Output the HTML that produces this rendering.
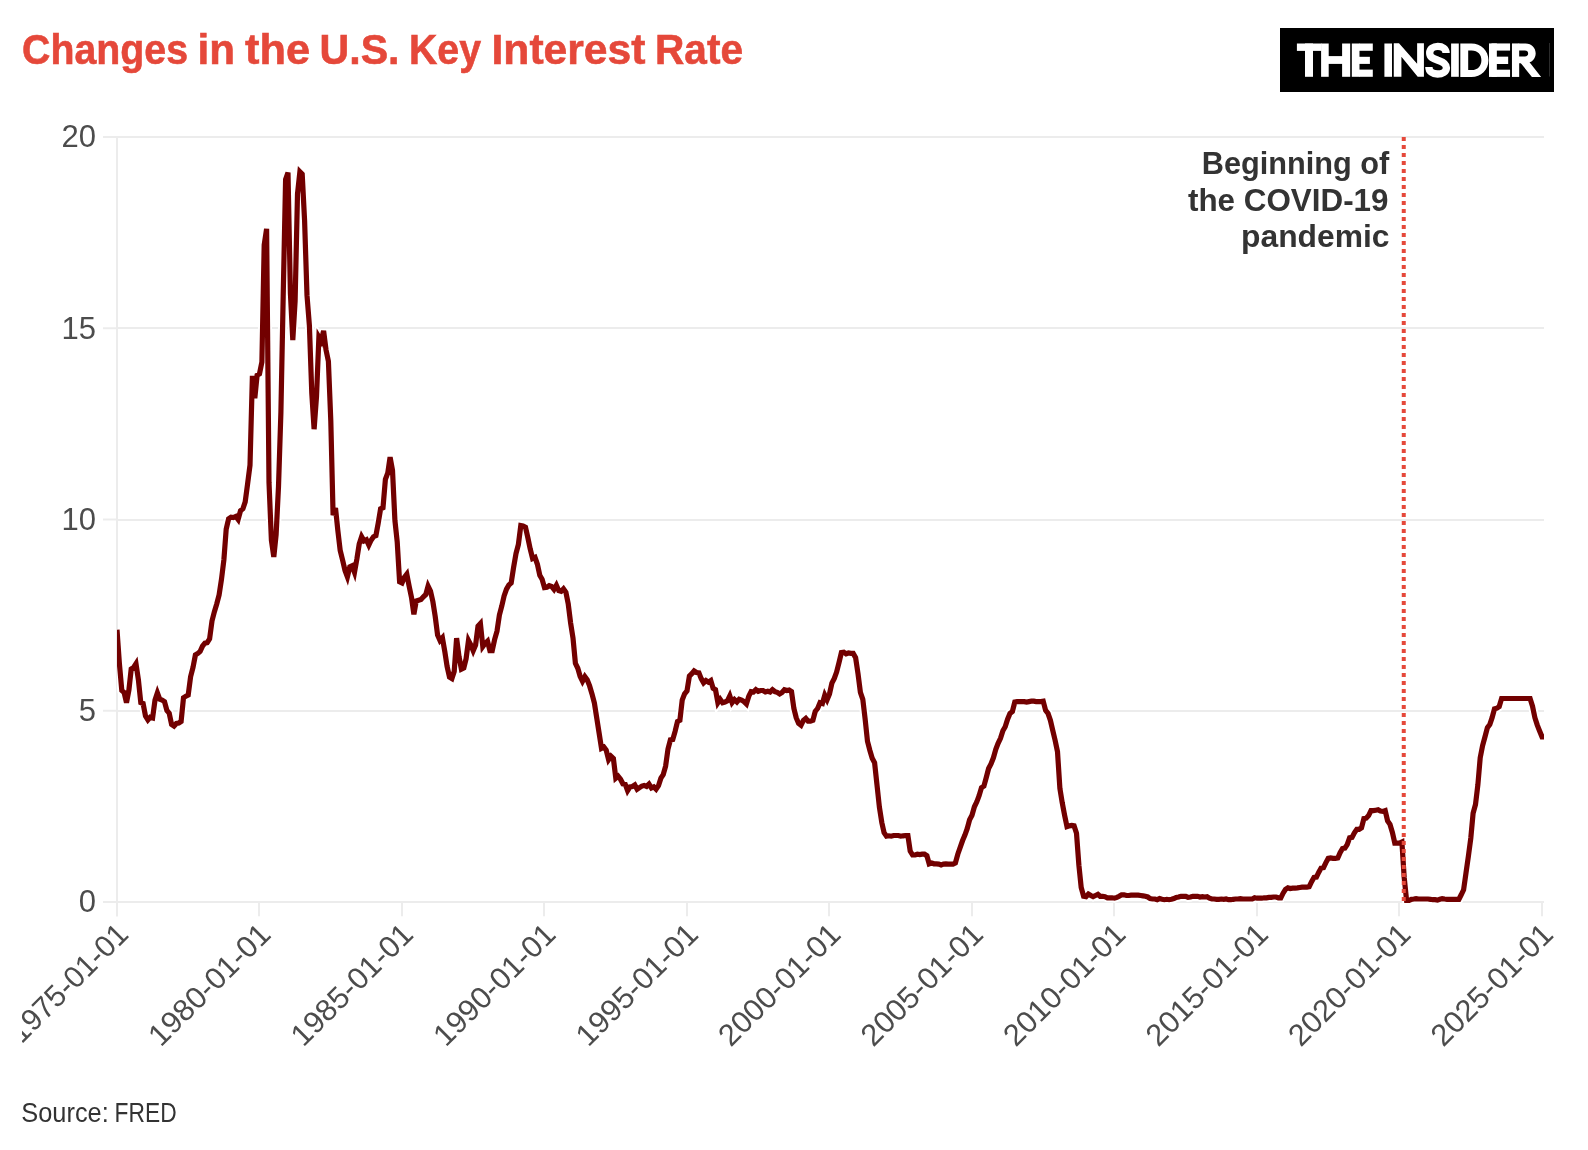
<!DOCTYPE html>
<html><head><meta charset="utf-8"><title>Changes in the U.S. Key Interest Rate</title>
<style>
html,body{margin:0;padding:0;background:#fff;}
body{width:1588px;height:1150px;overflow:hidden;font-family:"Liberation Sans",sans-serif;}
svg{display:block;font-family:"Liberation Sans",sans-serif;will-change:transform;-webkit-font-smoothing:antialiased;}
</style></head><body>
<svg width="1588" height="1150" viewBox="0 0 1588 1150">
<defs><clipPath id="c"><rect x="22" y="0" width="1544" height="1150"/></clipPath><clipPath id="p"><rect x="117" y="100" width="1427" height="830"/></clipPath></defs>
<rect width="1588" height="1150" fill="#fff"/>
<g font-size="43" font-weight="bold" fill="#e5483a" stroke="#e5483a" stroke-width="0.6"><text x="22.0" y="63.6" textLength="166.0" lengthAdjust="spacingAndGlyphs">Changes</text><text x="197.5" y="63.6" textLength="37.5" lengthAdjust="spacingAndGlyphs">in</text><text x="245.0" y="63.6" textLength="65.0" lengthAdjust="spacingAndGlyphs">the</text><text x="319.5" y="63.6" textLength="80.0" lengthAdjust="spacingAndGlyphs">U.S.</text><text x="409.0" y="63.6" textLength="72.0" lengthAdjust="spacingAndGlyphs">Key</text><text x="491.5" y="63.6" textLength="154.0" lengthAdjust="spacingAndGlyphs">Interest</text><text x="655.0" y="63.6" textLength="88.0" lengthAdjust="spacingAndGlyphs">Rate</text></g>
<rect x="1280" y="28" width="274" height="64" fill="#000"/><path fill="#fff" fill-rule="evenodd" d="M1296.90,43.50H1321.60V50.90H1296.90Z"/><path fill="#fff" fill-rule="evenodd" d="M1305.00,43.50H1313.00V76.80H1305.00Z"/><path fill="#fff" fill-rule="evenodd" d="M1321.10,43.50H1328.70V76.80H1321.10Z"/><path fill="#fff" fill-rule="evenodd" d="M1342.10,43.50H1350.20V76.80H1342.10Z"/><path fill="#fff" fill-rule="evenodd" d="M1328.00,56.10H1343.00V63.90H1328.00Z"/><path fill="#fff" fill-rule="evenodd" d="M1351.80,43.50H1359.50V76.80H1351.80Z"/><path fill="#fff" fill-rule="evenodd" d="M1359.00,43.50H1372.80V50.80H1359.00Z"/><path fill="#fff" fill-rule="evenodd" d="M1359.00,56.80H1369.90V63.90H1359.00Z"/><path fill="#fff" fill-rule="evenodd" d="M1359.00,69.60H1372.80V76.80H1359.00Z"/><path fill="#fff" fill-rule="evenodd" d="M1384.40,43.50H1392.00V76.80H1384.40Z"/><path fill="#fff" fill-rule="evenodd" d="M1393.77,43.37 L1398.99,43.37 L1417.12,63.66 L1417.12,43.37 L1423.92,43.37 L1423.92,76.81 L1417.69,76.81 L1401.42,56.86 L1401.42,76.81 L1393.77,76.81Z"/><path fill="#fff" fill-rule="evenodd" d="M1451.10,43.50H1458.80V76.80H1451.10Z"/><path fill="#fff" fill-rule="evenodd" d="M1460.31,43.43L1471.34,43.43C1481.10,43.43 1488.46,50.48 1488.46,60.18C1488.46,70.01 1481.10,76.93 1471.34,76.93L1460.31,76.93ZM1468.19,50.61L1468.19,70.01L1471.65,70.01C1477.95,70.01 1481.41,65.60 1481.41,60.18C1481.41,54.89 1477.95,50.61 1471.65,50.61Z"/><path fill="#fff" fill-rule="evenodd" d="M1488.97,43.43L1496.84,43.43 1496.84,76.93 1488.97,76.93Z"/><path fill="#fff" fill-rule="evenodd" d="M1491.49,43.43L1510.06,43.43 1510.06,50.61 1491.49,50.61Z"/><path fill="#fff" fill-rule="evenodd" d="M1491.49,56.65L1508.17,56.65 1508.17,64.02 1491.49,64.02Z"/><path fill="#fff" fill-rule="evenodd" d="M1491.49,69.69L1510.06,69.69 1510.06,76.93 1491.49,76.93Z"/><path fill="#fff" fill-rule="evenodd" d="M1511.95,43.43L1519.19,43.43 1519.19,76.93 1511.95,76.93Z"/><path fill="#fff" fill-rule="evenodd" d="M1518.56,43.43L1525.49,43.43C1531.79,43.43 1535.69,47.96 1535.69,53.32C1535.69,58.67 1531.79,63.20 1525.49,63.20L1518.56,63.20ZM1518.56,50.61L1518.56,56.47L1524.86,56.47C1527.07,56.47 1528.14,55.21 1528.14,53.57C1528.14,51.93 1527.07,50.61 1524.86,50.61Z"/><path fill="#fff" fill-rule="evenodd" d="M1519.19,62.45L1528.95,61.50 1541.11,76.93 1531.91,76.93 1520.45,62.76Z"/><path fill="none" stroke="#fff" stroke-width="7.35" d="M1446.08,53.00C1446.08,48.75 1442.34,46.32 1437.81,46.32C1433.28,46.32 1429.71,49.04 1429.71,53.00C1429.71,57.08 1432.71,58.39 1437.92,60.26C1443.02,61.96 1446.42,63.88 1446.42,67.74C1446.42,71.71 1442.34,74.03 1437.53,74.03C1432.43,74.03 1428.86,71.42 1428.86,67.06"/><rect x="1549" y="43" width="1" height="33.5" fill="#2b2b2b"/>
<g stroke="#ececec" stroke-width="2" fill="none"><line x1="103" x2="117" y1="902.00" y2="902.00"/><line x1="117" x2="1544" y1="902" y2="902"/><line x1="103" x2="117" y1="710.75" y2="710.75"/><line x1="117" x2="1544" y1="711" y2="711"/><line x1="103" x2="117" y1="519.50" y2="519.50"/><line x1="117" x2="1544" y1="520" y2="520"/><line x1="103" x2="117" y1="328.25" y2="328.25"/><line x1="117" x2="1544" y1="328" y2="328"/><line x1="103" x2="117" y1="137.00" y2="137.00"/><line x1="117" x2="1544" y1="137" y2="137"/><line x1="117" x2="117" y1="137" y2="916.3"/><line x1="117" x2="117" y1="902" y2="916.3"/><line x1="259" x2="259" y1="902" y2="916.3"/><line x1="402" x2="402" y1="902" y2="916.3"/><line x1="544" x2="544" y1="902" y2="916.3"/><line x1="687" x2="687" y1="902" y2="916.3"/><line x1="829" x2="829" y1="902" y2="916.3"/><line x1="972" x2="972" y1="902" y2="916.3"/><line x1="1114" x2="1114" y1="902" y2="916.3"/><line x1="1257" x2="1257" y1="902" y2="916.3"/><line x1="1399" x2="1399" y1="902" y2="916.3"/><line x1="1542" x2="1542" y1="902" y2="916.3"/></g>
<g font-size="31" fill="#4c4c4c"><text x="96.1" y="912.4" text-anchor="end">0</text><text x="96.1" y="721.0" text-anchor="end">5</text><text x="96.1" y="529.7" text-anchor="end">10</text><text x="96.1" y="338.6" text-anchor="end">15</text><text x="96.1" y="146.7" text-anchor="end">20</text></g>
<g font-size="30.5" fill="#4c4c4c" clip-path="url(#c)"><text transform="translate(130.0,936) rotate(-45)" text-anchor="end" textLength="153.5" lengthAdjust="spacingAndGlyphs">1975-01-01</text><text transform="translate(272.5,936) rotate(-45)" text-anchor="end" textLength="158" lengthAdjust="spacingAndGlyphs">1980-01-01</text><text transform="translate(415.0,936) rotate(-45)" text-anchor="end" textLength="158" lengthAdjust="spacingAndGlyphs">1985-01-01</text><text transform="translate(557.5,936) rotate(-45)" text-anchor="end" textLength="158" lengthAdjust="spacingAndGlyphs">1990-01-01</text><text transform="translate(700.0,936) rotate(-45)" text-anchor="end" textLength="158" lengthAdjust="spacingAndGlyphs">1995-01-01</text><text transform="translate(842.5,936) rotate(-45)" text-anchor="end" textLength="158" lengthAdjust="spacingAndGlyphs">2000-01-01</text><text transform="translate(985.0,936) rotate(-45)" text-anchor="end" textLength="158" lengthAdjust="spacingAndGlyphs">2005-01-01</text><text transform="translate(1127.5,936) rotate(-45)" text-anchor="end" textLength="158" lengthAdjust="spacingAndGlyphs">2010-01-01</text><text transform="translate(1270.0,936) rotate(-45)" text-anchor="end" textLength="158" lengthAdjust="spacingAndGlyphs">2015-01-01</text><text transform="translate(1412.5,936) rotate(-45)" text-anchor="end" textLength="158" lengthAdjust="spacingAndGlyphs">2020-01-01</text><text transform="translate(1555.0,936) rotate(-45)" text-anchor="end" textLength="158" lengthAdjust="spacingAndGlyphs">2025-01-01</text></g>
<g clip-path="url(#p)" fill="none" stroke-linejoin="miter" stroke-linecap="butt"><path d="M117.0,629.7 L119.4,663.7 L121.8,690.5 L124.1,692.4 L126.5,702.7 L128.9,690.1 L131.2,669.1 L133.6,667.5 L136.0,663.7 L138.4,679.8 L140.8,702.7 L143.1,703.5 L145.5,716.1 L147.9,719.9 L150.2,717.3 L152.6,718.0 L155.0,700.1 L157.4,692.8 L159.8,699.3 L162.1,700.1 L164.5,701.6 L166.9,710.4 L169.2,713.1 L171.6,724.5 L174.0,726.1 L176.4,723.4 L178.8,723.0 L181.1,721.5 L183.5,697.8 L185.9,696.2 L188.2,695.1 L190.6,676.7 L193.0,667.5 L195.4,654.9 L197.8,653.4 L200.1,651.5 L202.5,646.1 L204.9,643.1 L207.2,642.7 L209.6,638.9 L212.0,620.9 L214.4,611.7 L216.8,603.7 L219.1,594.9 L221.5,579.2 L223.9,559.7 L226.2,529.1 L228.6,518.8 L231.0,517.2 L233.4,517.6 L235.8,516.5 L238.1,519.5 L240.5,510.7 L242.9,508.8 L245.2,501.9 L247.6,483.9 L250.0,465.2 L252.4,375.7 L254.8,398.3 L257.1,375.3 L259.5,373.8 L261.9,361.9 L264.2,244.9 L266.6,228.8 L269.0,482.4 L271.4,540.2 L273.8,557.0 L276.1,534.8 L278.5,486.6 L280.9,412.4 L283.2,296.1 L285.6,179.5 L288.0,172.6 L290.4,293.1 L292.8,340.1 L295.1,301.1 L297.5,194.0 L299.9,171.8 L302.2,174.1 L304.6,220.8 L307.0,295.4 L309.4,325.6 L311.8,393.3 L314.1,429.2 L316.5,396.7 L318.9,337.1 L321.2,340.9 L323.6,330.9 L326.0,349.7 L328.4,361.2 L330.8,420.8 L333.1,515.3 L335.5,508.0 L337.9,531.0 L340.2,550.5 L342.6,560.1 L345.0,570.4 L347.4,576.9 L349.8,566.9 L352.1,565.8 L354.5,572.3 L356.9,558.9 L359.2,544.0 L361.6,536.7 L364.0,540.9 L366.4,539.8 L368.8,545.1 L371.1,540.2 L373.5,536.7 L375.9,535.6 L378.2,523.3 L380.6,508.8 L383.0,507.7 L385.4,479.4 L387.8,472.9 L390.1,457.2 L392.5,470.2 L394.9,520.3 L397.2,541.7 L399.6,581.9 L402.0,583.0 L404.4,577.3 L406.8,574.2 L409.1,586.1 L411.5,597.5 L413.9,614.4 L416.2,601.0 L418.6,600.2 L421.0,599.5 L423.4,596.8 L425.8,594.5 L428.1,586.1 L430.5,591.0 L432.9,601.8 L435.2,616.3 L437.6,635.0 L440.0,640.4 L442.4,637.7 L444.8,651.5 L447.1,666.4 L449.5,677.1 L451.9,678.6 L454.2,671.4 L456.6,638.1 L459.0,656.5 L461.4,669.1 L463.8,667.9 L466.1,658.7 L468.5,640.4 L470.9,645.0 L473.2,650.7 L475.6,645.0 L478.0,626.2 L480.4,623.6 L482.8,646.5 L485.1,643.4 L487.5,641.2 L489.9,650.7 L492.2,650.7 L494.6,639.6 L497.0,631.2 L499.4,615.1 L501.8,606.0 L504.1,596.0 L506.5,589.1 L508.9,584.9 L511.2,583.0 L513.6,567.3 L516.0,553.6 L518.4,544.4 L520.8,525.6 L523.1,526.0 L525.5,527.2 L527.9,537.9 L530.2,549.0 L532.6,558.5 L535.0,557.4 L537.4,564.3 L539.8,575.4 L542.1,579.2 L544.5,587.6 L546.9,587.2 L549.2,585.7 L551.6,586.5 L554.0,589.5 L556.4,585.3 L558.8,590.7 L561.1,591.4 L563.5,588.8 L565.9,592.2 L568.2,603.7 L570.6,622.8 L573.0,638.1 L575.4,663.3 L577.8,668.3 L580.1,676.3 L582.5,681.3 L584.9,676.7 L587.2,679.8 L589.6,685.9 L592.0,693.9 L594.4,703.1 L596.8,718.4 L599.1,733.0 L601.5,748.3 L603.9,747.1 L606.2,750.2 L608.6,759.7 L611.0,756.3 L613.4,758.6 L615.8,778.1 L618.1,776.2 L620.5,779.2 L622.9,783.8 L625.2,784.2 L627.6,790.7 L630.0,786.9 L632.4,786.5 L634.8,785.0 L637.1,789.2 L639.5,787.6 L641.9,786.1 L644.2,785.4 L646.6,786.5 L649.0,784.2 L651.4,788.0 L653.8,786.9 L656.1,789.2 L658.5,785.7 L660.9,778.1 L663.2,774.6 L665.6,766.2 L668.0,749.0 L670.4,739.8 L672.8,739.5 L675.1,731.4 L677.5,721.5 L679.9,720.3 L682.2,700.1 L684.6,693.9 L687.0,690.9 L689.4,676.0 L691.8,673.7 L694.1,671.0 L696.5,672.5 L698.9,672.9 L701.2,678.6 L703.6,682.8 L706.0,680.5 L708.4,682.1 L710.8,680.5 L713.1,688.2 L715.5,689.7 L717.9,702.7 L720.2,699.3 L722.6,702.7 L725.0,702.0 L727.4,700.8 L729.8,695.8 L732.1,702.7 L734.5,699.7 L736.9,702.0 L739.2,699.3 L741.6,700.1 L744.0,701.6 L746.4,703.9 L748.8,696.2 L751.1,691.6 L753.5,692.0 L755.9,689.7 L758.2,691.3 L760.6,690.5 L763.0,690.5 L765.4,692.0 L767.8,691.3 L770.1,692.0 L772.5,689.7 L774.9,691.6 L777.2,692.4 L779.6,693.9 L782.0,692.4 L784.4,689.7 L786.8,690.5 L789.1,690.1 L791.5,691.6 L793.9,708.5 L796.2,717.7 L798.6,723.4 L801.0,725.3 L803.4,720.3 L805.8,718.4 L808.1,721.1 L810.5,721.1 L812.9,720.3 L815.2,711.5 L817.6,708.5 L820.0,702.7 L822.4,703.5 L824.8,695.1 L827.1,699.7 L829.5,693.9 L831.9,683.2 L834.2,678.6 L836.6,672.1 L839.0,662.6 L841.4,652.6 L843.8,652.2 L846.1,653.8 L848.5,653.0 L850.9,653.4 L853.2,653.4 L855.6,657.6 L858.0,673.7 L860.4,692.4 L862.8,699.3 L865.1,718.8 L867.5,741.4 L869.9,750.5 L872.2,758.2 L874.6,762.8 L877.0,785.0 L879.4,807.2 L881.8,822.5 L884.1,832.8 L886.5,836.2 L888.9,835.8 L891.2,836.2 L893.6,835.5 L896.0,835.5 L898.4,835.5 L900.8,836.2 L903.1,835.8 L905.5,835.5 L907.9,835.5 L910.2,851.1 L912.6,855.0 L915.0,855.0 L917.4,854.2 L919.8,854.6 L922.1,854.2 L924.5,854.2 L926.9,855.7 L929.2,863.8 L931.6,863.0 L934.0,863.8 L936.4,863.8 L938.8,864.1 L941.1,864.9 L943.5,864.1 L945.9,863.8 L948.2,864.1 L950.6,864.1 L953.0,864.1 L955.4,863.0 L957.8,854.2 L960.1,847.7 L962.5,840.8 L964.9,835.1 L967.2,828.6 L969.6,819.8 L972.0,815.2 L974.4,806.8 L976.8,801.8 L979.1,795.7 L981.5,787.6 L983.9,786.1 L986.2,777.7 L988.6,768.5 L991.0,763.9 L993.4,757.8 L995.8,749.4 L998.1,743.3 L1000.5,738.3 L1002.9,730.7 L1005.2,726.8 L1007.6,719.2 L1010.0,713.4 L1012.4,711.5 L1014.8,702.0 L1017.1,701.6 L1019.5,701.6 L1021.9,701.6 L1024.2,701.6 L1026.6,702.0 L1029.0,701.6 L1031.4,701.2 L1033.8,701.2 L1036.1,701.6 L1038.5,701.6 L1040.9,701.6 L1043.2,701.2 L1045.6,710.4 L1048.0,713.4 L1050.4,720.3 L1052.8,730.7 L1055.1,740.2 L1057.5,751.7 L1059.9,788.4 L1062.2,802.6 L1064.6,815.2 L1067.0,826.7 L1069.4,825.9 L1071.8,825.5 L1074.1,825.9 L1076.5,833.2 L1078.9,865.3 L1081.2,887.5 L1083.6,896.3 L1086.0,896.7 L1088.4,894.0 L1090.8,895.5 L1093.1,896.7 L1095.5,895.5 L1097.9,894.4 L1100.2,896.3 L1102.6,896.3 L1105.0,896.7 L1107.4,897.8 L1109.8,897.8 L1112.1,897.8 L1114.5,898.2 L1116.9,897.4 L1119.2,896.3 L1121.6,894.8 L1124.0,894.8 L1126.4,895.5 L1128.8,895.5 L1131.1,895.1 L1133.5,895.1 L1135.9,895.1 L1138.2,895.1 L1140.6,895.5 L1143.0,895.9 L1145.4,896.3 L1147.8,897.0 L1150.1,898.6 L1152.5,899.0 L1154.9,899.0 L1157.2,899.7 L1159.6,898.6 L1162.0,899.3 L1164.4,899.7 L1166.8,899.3 L1169.1,899.7 L1171.5,899.3 L1173.9,898.6 L1176.2,897.4 L1178.6,897.0 L1181.0,896.3 L1183.4,896.3 L1185.8,896.3 L1188.1,897.4 L1190.5,897.0 L1192.9,896.3 L1195.2,896.3 L1197.6,896.3 L1200.0,897.0 L1202.4,896.7 L1204.8,897.0 L1207.1,896.7 L1209.5,898.2 L1211.9,899.0 L1214.2,899.0 L1216.6,899.3 L1219.0,899.3 L1221.4,899.0 L1223.8,899.3 L1226.1,899.0 L1228.5,899.7 L1230.9,899.7 L1233.2,899.3 L1235.6,899.0 L1238.0,899.0 L1240.4,898.6 L1242.8,899.0 L1245.1,899.0 L1247.5,899.0 L1249.9,899.0 L1252.2,899.0 L1254.6,897.8 L1257.0,898.2 L1259.4,898.2 L1261.8,898.2 L1264.1,897.8 L1266.5,897.8 L1268.9,897.4 L1271.2,897.4 L1273.6,897.0 L1276.0,897.0 L1278.4,897.8 L1280.8,897.8 L1283.1,893.2 L1285.5,889.4 L1287.9,887.9 L1290.2,888.6 L1292.6,888.2 L1295.0,888.2 L1297.4,887.9 L1299.8,887.5 L1302.1,887.1 L1304.5,887.1 L1306.9,887.1 L1309.2,886.7 L1311.6,881.7 L1314.0,877.5 L1316.4,877.2 L1318.8,872.2 L1321.1,868.0 L1323.5,867.6 L1325.9,862.6 L1328.2,858.4 L1330.6,858.0 L1333.0,858.4 L1335.4,858.4 L1337.8,858.0 L1340.1,852.7 L1342.5,848.5 L1344.9,848.1 L1347.2,844.6 L1349.6,837.8 L1352.0,837.4 L1354.4,832.8 L1356.8,829.3 L1359.1,829.3 L1361.5,827.8 L1363.9,818.6 L1366.2,818.2 L1368.6,815.6 L1371.0,810.6 L1373.4,810.6 L1375.8,810.2 L1378.1,809.8 L1380.5,811.0 L1382.9,811.4 L1385.2,810.6 L1387.6,820.9 L1390.0,824.4 L1392.4,832.4 L1394.8,843.1 L1397.1,843.1 L1399.5,843.1 L1401.9,842.0 L1404.2,877.5 L1406.6,900.5 L1409.0,900.5 L1411.4,899.3 L1413.8,899.0 L1416.1,898.6 L1418.5,899.0 L1420.9,899.0 L1423.2,899.0 L1425.6,899.0 L1428.0,899.0 L1430.4,899.3 L1432.8,899.7 L1435.1,899.7 L1437.5,900.1 L1439.9,899.3 L1442.2,898.6 L1444.6,899.0 L1447.0,899.3 L1449.4,899.3 L1451.8,899.3 L1454.1,899.3 L1456.5,899.3 L1458.9,899.3 L1461.2,894.8 L1463.6,889.8 L1466.0,872.9 L1468.4,856.1 L1470.8,838.1 L1473.1,813.3 L1475.5,804.5 L1477.9,784.6 L1480.2,757.8 L1482.6,745.6 L1485.0,736.8 L1487.4,727.6 L1489.8,724.5 L1492.1,717.7 L1494.5,708.9 L1496.9,708.1 L1499.2,706.6 L1501.6,698.5 L1504.0,698.5 L1506.4,698.5 L1508.8,698.5 L1511.1,698.5 L1513.5,698.5 L1515.9,698.5 L1518.2,698.5 L1520.6,698.5 L1523.0,698.5 L1525.4,698.5 L1527.8,698.5 L1530.1,698.5 L1532.5,706.2 L1534.9,717.7 L1537.2,724.9 L1539.6,731.0 L1542.0,736.8 L1544.4,736.8 L1546.8,736.8" stroke="#fff" stroke-width="9"/><path d="M117.0,629.7 L119.4,663.7 L121.8,690.5 L124.1,692.4 L126.5,702.7 L128.9,690.1 L131.2,669.1 L133.6,667.5 L136.0,663.7 L138.4,679.8 L140.8,702.7 L143.1,703.5 L145.5,716.1 L147.9,719.9 L150.2,717.3 L152.6,718.0 L155.0,700.1 L157.4,692.8 L159.8,699.3 L162.1,700.1 L164.5,701.6 L166.9,710.4 L169.2,713.1 L171.6,724.5 L174.0,726.1 L176.4,723.4 L178.8,723.0 L181.1,721.5 L183.5,697.8 L185.9,696.2 L188.2,695.1 L190.6,676.7 L193.0,667.5 L195.4,654.9 L197.8,653.4 L200.1,651.5 L202.5,646.1 L204.9,643.1 L207.2,642.7 L209.6,638.9 L212.0,620.9 L214.4,611.7 L216.8,603.7 L219.1,594.9 L221.5,579.2 L223.9,559.7 L226.2,529.1 L228.6,518.8 L231.0,517.2 L233.4,517.6 L235.8,516.5 L238.1,519.5 L240.5,510.7 L242.9,508.8 L245.2,501.9 L247.6,483.9 L250.0,465.2 L252.4,375.7 L254.8,398.3 L257.1,375.3 L259.5,373.8 L261.9,361.9 L264.2,244.9 L266.6,228.8 L269.0,482.4 L271.4,540.2 L273.8,557.0 L276.1,534.8 L278.5,486.6 L280.9,412.4 L283.2,296.1 L285.6,179.5 L288.0,172.6 L290.4,293.1 L292.8,340.1 L295.1,301.1 L297.5,194.0 L299.9,171.8 L302.2,174.1 L304.6,220.8 L307.0,295.4 L309.4,325.6 L311.8,393.3 L314.1,429.2 L316.5,396.7 L318.9,337.1 L321.2,340.9 L323.6,330.9 L326.0,349.7 L328.4,361.2 L330.8,420.8 L333.1,515.3 L335.5,508.0 L337.9,531.0 L340.2,550.5 L342.6,560.1 L345.0,570.4 L347.4,576.9 L349.8,566.9 L352.1,565.8 L354.5,572.3 L356.9,558.9 L359.2,544.0 L361.6,536.7 L364.0,540.9 L366.4,539.8 L368.8,545.1 L371.1,540.2 L373.5,536.7 L375.9,535.6 L378.2,523.3 L380.6,508.8 L383.0,507.7 L385.4,479.4 L387.8,472.9 L390.1,457.2 L392.5,470.2 L394.9,520.3 L397.2,541.7 L399.6,581.9 L402.0,583.0 L404.4,577.3 L406.8,574.2 L409.1,586.1 L411.5,597.5 L413.9,614.4 L416.2,601.0 L418.6,600.2 L421.0,599.5 L423.4,596.8 L425.8,594.5 L428.1,586.1 L430.5,591.0 L432.9,601.8 L435.2,616.3 L437.6,635.0 L440.0,640.4 L442.4,637.7 L444.8,651.5 L447.1,666.4 L449.5,677.1 L451.9,678.6 L454.2,671.4 L456.6,638.1 L459.0,656.5 L461.4,669.1 L463.8,667.9 L466.1,658.7 L468.5,640.4 L470.9,645.0 L473.2,650.7 L475.6,645.0 L478.0,626.2 L480.4,623.6 L482.8,646.5 L485.1,643.4 L487.5,641.2 L489.9,650.7 L492.2,650.7 L494.6,639.6 L497.0,631.2 L499.4,615.1 L501.8,606.0 L504.1,596.0 L506.5,589.1 L508.9,584.9 L511.2,583.0 L513.6,567.3 L516.0,553.6 L518.4,544.4 L520.8,525.6 L523.1,526.0 L525.5,527.2 L527.9,537.9 L530.2,549.0 L532.6,558.5 L535.0,557.4 L537.4,564.3 L539.8,575.4 L542.1,579.2 L544.5,587.6 L546.9,587.2 L549.2,585.7 L551.6,586.5 L554.0,589.5 L556.4,585.3 L558.8,590.7 L561.1,591.4 L563.5,588.8 L565.9,592.2 L568.2,603.7 L570.6,622.8 L573.0,638.1 L575.4,663.3 L577.8,668.3 L580.1,676.3 L582.5,681.3 L584.9,676.7 L587.2,679.8 L589.6,685.9 L592.0,693.9 L594.4,703.1 L596.8,718.4 L599.1,733.0 L601.5,748.3 L603.9,747.1 L606.2,750.2 L608.6,759.7 L611.0,756.3 L613.4,758.6 L615.8,778.1 L618.1,776.2 L620.5,779.2 L622.9,783.8 L625.2,784.2 L627.6,790.7 L630.0,786.9 L632.4,786.5 L634.8,785.0 L637.1,789.2 L639.5,787.6 L641.9,786.1 L644.2,785.4 L646.6,786.5 L649.0,784.2 L651.4,788.0 L653.8,786.9 L656.1,789.2 L658.5,785.7 L660.9,778.1 L663.2,774.6 L665.6,766.2 L668.0,749.0 L670.4,739.8 L672.8,739.5 L675.1,731.4 L677.5,721.5 L679.9,720.3 L682.2,700.1 L684.6,693.9 L687.0,690.9 L689.4,676.0 L691.8,673.7 L694.1,671.0 L696.5,672.5 L698.9,672.9 L701.2,678.6 L703.6,682.8 L706.0,680.5 L708.4,682.1 L710.8,680.5 L713.1,688.2 L715.5,689.7 L717.9,702.7 L720.2,699.3 L722.6,702.7 L725.0,702.0 L727.4,700.8 L729.8,695.8 L732.1,702.7 L734.5,699.7 L736.9,702.0 L739.2,699.3 L741.6,700.1 L744.0,701.6 L746.4,703.9 L748.8,696.2 L751.1,691.6 L753.5,692.0 L755.9,689.7 L758.2,691.3 L760.6,690.5 L763.0,690.5 L765.4,692.0 L767.8,691.3 L770.1,692.0 L772.5,689.7 L774.9,691.6 L777.2,692.4 L779.6,693.9 L782.0,692.4 L784.4,689.7 L786.8,690.5 L789.1,690.1 L791.5,691.6 L793.9,708.5 L796.2,717.7 L798.6,723.4 L801.0,725.3 L803.4,720.3 L805.8,718.4 L808.1,721.1 L810.5,721.1 L812.9,720.3 L815.2,711.5 L817.6,708.5 L820.0,702.7 L822.4,703.5 L824.8,695.1 L827.1,699.7 L829.5,693.9 L831.9,683.2 L834.2,678.6 L836.6,672.1 L839.0,662.6 L841.4,652.6 L843.8,652.2 L846.1,653.8 L848.5,653.0 L850.9,653.4 L853.2,653.4 L855.6,657.6 L858.0,673.7 L860.4,692.4 L862.8,699.3 L865.1,718.8 L867.5,741.4 L869.9,750.5 L872.2,758.2 L874.6,762.8 L877.0,785.0 L879.4,807.2 L881.8,822.5 L884.1,832.8 L886.5,836.2 L888.9,835.8 L891.2,836.2 L893.6,835.5 L896.0,835.5 L898.4,835.5 L900.8,836.2 L903.1,835.8 L905.5,835.5 L907.9,835.5 L910.2,851.1 L912.6,855.0 L915.0,855.0 L917.4,854.2 L919.8,854.6 L922.1,854.2 L924.5,854.2 L926.9,855.7 L929.2,863.8 L931.6,863.0 L934.0,863.8 L936.4,863.8 L938.8,864.1 L941.1,864.9 L943.5,864.1 L945.9,863.8 L948.2,864.1 L950.6,864.1 L953.0,864.1 L955.4,863.0 L957.8,854.2 L960.1,847.7 L962.5,840.8 L964.9,835.1 L967.2,828.6 L969.6,819.8 L972.0,815.2 L974.4,806.8 L976.8,801.8 L979.1,795.7 L981.5,787.6 L983.9,786.1 L986.2,777.7 L988.6,768.5 L991.0,763.9 L993.4,757.8 L995.8,749.4 L998.1,743.3 L1000.5,738.3 L1002.9,730.7 L1005.2,726.8 L1007.6,719.2 L1010.0,713.4 L1012.4,711.5 L1014.8,702.0 L1017.1,701.6 L1019.5,701.6 L1021.9,701.6 L1024.2,701.6 L1026.6,702.0 L1029.0,701.6 L1031.4,701.2 L1033.8,701.2 L1036.1,701.6 L1038.5,701.6 L1040.9,701.6 L1043.2,701.2 L1045.6,710.4 L1048.0,713.4 L1050.4,720.3 L1052.8,730.7 L1055.1,740.2 L1057.5,751.7 L1059.9,788.4 L1062.2,802.6 L1064.6,815.2 L1067.0,826.7 L1069.4,825.9 L1071.8,825.5 L1074.1,825.9 L1076.5,833.2 L1078.9,865.3 L1081.2,887.5 L1083.6,896.3 L1086.0,896.7 L1088.4,894.0 L1090.8,895.5 L1093.1,896.7 L1095.5,895.5 L1097.9,894.4 L1100.2,896.3 L1102.6,896.3 L1105.0,896.7 L1107.4,897.8 L1109.8,897.8 L1112.1,897.8 L1114.5,898.2 L1116.9,897.4 L1119.2,896.3 L1121.6,894.8 L1124.0,894.8 L1126.4,895.5 L1128.8,895.5 L1131.1,895.1 L1133.5,895.1 L1135.9,895.1 L1138.2,895.1 L1140.6,895.5 L1143.0,895.9 L1145.4,896.3 L1147.8,897.0 L1150.1,898.6 L1152.5,899.0 L1154.9,899.0 L1157.2,899.7 L1159.6,898.6 L1162.0,899.3 L1164.4,899.7 L1166.8,899.3 L1169.1,899.7 L1171.5,899.3 L1173.9,898.6 L1176.2,897.4 L1178.6,897.0 L1181.0,896.3 L1183.4,896.3 L1185.8,896.3 L1188.1,897.4 L1190.5,897.0 L1192.9,896.3 L1195.2,896.3 L1197.6,896.3 L1200.0,897.0 L1202.4,896.7 L1204.8,897.0 L1207.1,896.7 L1209.5,898.2 L1211.9,899.0 L1214.2,899.0 L1216.6,899.3 L1219.0,899.3 L1221.4,899.0 L1223.8,899.3 L1226.1,899.0 L1228.5,899.7 L1230.9,899.7 L1233.2,899.3 L1235.6,899.0 L1238.0,899.0 L1240.4,898.6 L1242.8,899.0 L1245.1,899.0 L1247.5,899.0 L1249.9,899.0 L1252.2,899.0 L1254.6,897.8 L1257.0,898.2 L1259.4,898.2 L1261.8,898.2 L1264.1,897.8 L1266.5,897.8 L1268.9,897.4 L1271.2,897.4 L1273.6,897.0 L1276.0,897.0 L1278.4,897.8 L1280.8,897.8 L1283.1,893.2 L1285.5,889.4 L1287.9,887.9 L1290.2,888.6 L1292.6,888.2 L1295.0,888.2 L1297.4,887.9 L1299.8,887.5 L1302.1,887.1 L1304.5,887.1 L1306.9,887.1 L1309.2,886.7 L1311.6,881.7 L1314.0,877.5 L1316.4,877.2 L1318.8,872.2 L1321.1,868.0 L1323.5,867.6 L1325.9,862.6 L1328.2,858.4 L1330.6,858.0 L1333.0,858.4 L1335.4,858.4 L1337.8,858.0 L1340.1,852.7 L1342.5,848.5 L1344.9,848.1 L1347.2,844.6 L1349.6,837.8 L1352.0,837.4 L1354.4,832.8 L1356.8,829.3 L1359.1,829.3 L1361.5,827.8 L1363.9,818.6 L1366.2,818.2 L1368.6,815.6 L1371.0,810.6 L1373.4,810.6 L1375.8,810.2 L1378.1,809.8 L1380.5,811.0 L1382.9,811.4 L1385.2,810.6 L1387.6,820.9 L1390.0,824.4 L1392.4,832.4 L1394.8,843.1 L1397.1,843.1 L1399.5,843.1 L1401.9,842.0 L1404.2,877.5 L1406.6,900.5 L1409.0,900.5 L1411.4,899.3 L1413.8,899.0 L1416.1,898.6 L1418.5,899.0 L1420.9,899.0 L1423.2,899.0 L1425.6,899.0 L1428.0,899.0 L1430.4,899.3 L1432.8,899.7 L1435.1,899.7 L1437.5,900.1 L1439.9,899.3 L1442.2,898.6 L1444.6,899.0 L1447.0,899.3 L1449.4,899.3 L1451.8,899.3 L1454.1,899.3 L1456.5,899.3 L1458.9,899.3 L1461.2,894.8 L1463.6,889.8 L1466.0,872.9 L1468.4,856.1 L1470.8,838.1 L1473.1,813.3 L1475.5,804.5 L1477.9,784.6 L1480.2,757.8 L1482.6,745.6 L1485.0,736.8 L1487.4,727.6 L1489.8,724.5 L1492.1,717.7 L1494.5,708.9 L1496.9,708.1 L1499.2,706.6 L1501.6,698.5 L1504.0,698.5 L1506.4,698.5 L1508.8,698.5 L1511.1,698.5 L1513.5,698.5 L1515.9,698.5 L1518.2,698.5 L1520.6,698.5 L1523.0,698.5 L1525.4,698.5 L1527.8,698.5 L1530.1,698.5 L1532.5,706.2 L1534.9,717.7 L1537.2,724.9 L1539.6,731.0 L1542.0,736.8 L1544.4,736.8 L1546.8,736.8" stroke="#720000" stroke-width="5.2"/></g>
<line x1="1403.75" x2="1403.75" y1="137" y2="902" stroke="#e5483a" stroke-width="4" stroke-dasharray="4 4"/>
<g font-size="32" font-weight="bold" fill="#333"><text x="1201.8" y="173.6" textLength="187.5" lengthAdjust="spacingAndGlyphs">Beginning of</text><text x="1188.0" y="210.5" textLength="200.5" lengthAdjust="spacingAndGlyphs">the COVID-19</text><text x="1241.0" y="247.4" textLength="148.5" lengthAdjust="spacingAndGlyphs">pandemic</text></g>
<g font-size="28" fill="#333"><text x="21.3" y="1122.3" textLength="87.5" lengthAdjust="spacingAndGlyphs">Source:</text><text x="114.6" y="1122.3" textLength="62" lengthAdjust="spacingAndGlyphs">FRED</text></g>
</svg>
</body></html>
